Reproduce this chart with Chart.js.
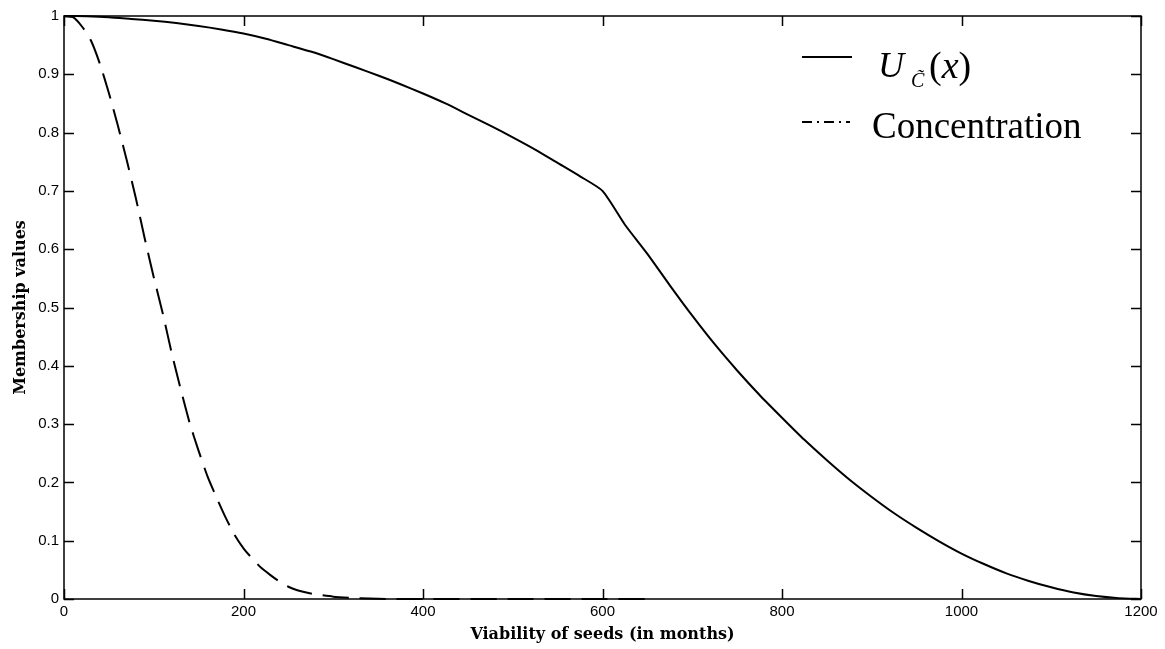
<!DOCTYPE html>
<html>
<head>
<meta charset="utf-8">
<script src="https://cdn.jsdelivr.net/npm/chart.js@4.4.1/dist/chart.umd.min.js"></script>
<style>
  body { margin: 0; background: #fff; }
  #wrap { position: relative; width: 1165px; height: 649px; }
  #legend { position: absolute; left: 0; top: 0; font-family: 'Liberation Serif', 'Times New Roman', serif; color: #000; }
  #legend span { position: absolute; line-height: 36px; white-space: nowrap; }
</style>
</head>
<body>
<div id="wrap">
  <canvas id="chart" width="1165" height="649"></canvas>
  <div id="legend">
    <svg style="position:absolute;left:800px;top:50px" width="60" height="80">
      <line x1="2" y1="7" x2="52" y2="7" stroke="#000" stroke-width="2"/>
      <line x1="2" y1="72" x2="50" y2="72" stroke="#000" stroke-width="2" stroke-dasharray="10,5,2,5"/>
    </svg>
    <span style="left:878px;top:47px;font-size:36px;font-style:italic">U</span>
    <span style="left:911px;top:70px;font-size:20px;line-height:20px;font-style:italic">C&#x303;</span>
    <span style="left:929px;top:47px;font-size:38px">(<i>x</i>)</span>
    <span style="left:872px;top:108px;font-size:37px">Concentration</span>
  </div>
</div>

<script>
// =====================================================
// DATA
// =====================================================

// tick labels
const xTicks = [0, 200, 400, 600, 800, 1000, 1200];
const yTicks = [0, 0.1, 0.2, 0.3, 0.4, 0.5, 0.6, 0.7, 0.8, 0.9, 1];

// solid curve U_C(x), read every 25 months
const uMonths = [0, 25, 50, 75, 100, 125, 150, 175, 200, 225, 250, 275, 300, 325, 350, 375, 400, 425, 450, 475,
                 500, 525, 550, 575, 600, 625, 650, 675, 700, 725, 750, 775, 800, 825, 850, 875, 900, 925, 950, 975,
                 1000, 1025, 1050, 1075, 1100, 1125, 1150, 1175, 1200];
const uValues = [1.0, 0.9995, 0.998, 0.995, 0.992, 0.988, 0.983, 0.977, 0.97, 0.961, 0.95, 0.939, 0.926, 0.912, 0.898, 0.883, 0.867, 0.85, 0.831, 0.812,
                 0.792, 0.771, 0.748, 0.725, 0.70, 0.642, 0.592, 0.538, 0.486, 0.437, 0.392, 0.35, 0.311, 0.273, 0.238, 0.205, 0.175, 0.147, 0.122, 0.099,
                 0.078, 0.06, 0.044, 0.031, 0.02, 0.011, 0.005, 0.0015, 0];

// dashed curve: concentration
const concMonths = [0, 10, 20, 30, 40, 50, 60, 70, 80, 90, 100, 110, 120, 130, 140, 150, 160, 170, 180, 190,
                    200, 210, 220, 230, 240, 250, 260, 270, 280, 300, 320, 340, 360, 400, 500, 600, 650];
const concValues = [1.0, 0.998, 0.982, 0.958, 0.918, 0.868, 0.812, 0.752, 0.688, 0.618, 0.552, 0.49, 0.422, 0.36, 0.302, 0.254, 0.21, 0.174, 0.14, 0.11,
                    0.087, 0.069, 0.053, 0.041, 0.03, 0.021, 0.015, 0.011, 0.008, 0.004, 0.002, 0.001, 0, 0, 0, 0, 0];

// turn two arrays into {x, y} points
function toPoints(xs, ys) {
  return xs.map((x, i) => ({ x: x, y: ys[i] }));
}

// =====================================================
// MATLAB-style box with inward ticks on all four sides
// =====================================================
const boxPlugin = {
  id: 'box',
  afterDraw(chart) {
    const { ctx, chartArea: a, scales } = chart;
    const len = 10;
    ctx.save();
    ctx.strokeStyle = '#000';
    ctx.lineWidth = 1.5;
    ctx.strokeRect(a.left, a.top, a.right - a.left, a.bottom - a.top);
    ctx.beginPath();
    xTicks.forEach(v => {
      const px = Math.round(scales.x.getPixelForValue(v)) + 0.5;
      ctx.moveTo(px, a.bottom); ctx.lineTo(px, a.bottom - len);
      ctx.moveTo(px, a.top);    ctx.lineTo(px, a.top + len);
    });
    yTicks.forEach(v => {
      const py = Math.round(scales.y.getPixelForValue(v)) + 0.5;
      ctx.moveTo(a.left, py);  ctx.lineTo(a.left + len, py);
      ctx.moveTo(a.right, py); ctx.lineTo(a.right - len, py);
    });
    ctx.stroke();
    ctx.restore();
  }
};

const tickFont = { family: "'Liberation Sans', Arial, sans-serif", size: 15 };
const titleFont = { family: "'DejaVu Serif', serif", size: 16, weight: 'bold' };

new Chart(document.getElementById('chart'), {
  type: 'line',
  data: {
    datasets: [
      {
        label: 'U',
        data: toPoints(uMonths, uValues),
        borderColor: '#000',
        borderWidth: 2,
        pointRadius: 0,
        tension: 0.2,
        clip: false
      },
      {
        label: 'Concentration',
        data: toPoints(concMonths, concValues),
        borderColor: '#000',
        borderWidth: 2,
        borderDash: [26, 11],
        pointRadius: 0,
        tension: 0.2,
        clip: false
      }
    ]
  },
  options: {
    responsive: false,
    animation: false,
    devicePixelRatio: 1,
    layout: { padding: { top: 16, right: 24, left: 0, bottom: 0 } },
    plugins: {
      legend: { display: false },
      tooltip: { enabled: false }
    },
    scales: {
      x: {
        type: 'linear',
        min: 0,
        max: 1200,
        grid: { display: false, drawTicks: false },
        border: { display: false },
        afterBuildTicks: s => { s.ticks = xTicks.map(v => ({ value: v })); },
        afterFit: s => { s.height = 50; },
        ticks: { color: '#000', font: tickFont, padding: 4, maxRotation: 0, callback: v => String(v) },
        title: {
          display: true,
          text: 'Viability of seeds (in months)',
          color: '#000',
          font: titleFont,
          padding: { top: 0, bottom: 5 }
        }
      },
      y: {
        min: 0,
        max: 1,
        grid: { display: false, drawTicks: false },
        border: { display: false },
        afterBuildTicks: s => { s.ticks = yTicks.map(v => ({ value: v })); },
        afterFit: s => { s.width = 64; },
        ticks: {
          color: '#000',
          font: tickFont,
          padding: 5,
          callback: v => String(Math.round(v * 10) / 10)
        },
        title: {
          display: true,
          text: 'Membership values',
          color: '#000',
          font: titleFont,
          padding: { top: 11, bottom: 0 }
        }
      }
    }
  },
  plugins: [boxPlugin]
});
</script>
</body>
</html>
